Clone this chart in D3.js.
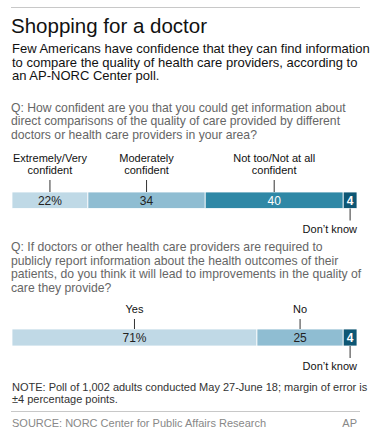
<!DOCTYPE html>
<html>
<head>
<meta charset="utf-8">
<script src="https://cdn.jsdelivr.net/npm/d3@7"></script>
<style>
  body { margin: 0; background: #fff; }
  svg { display: block; font-family: "Liberation Sans", Arial, sans-serif; }
</style>
</head>
<body>
<div id="chart-area"></div>
<script>
// data
var q1Categories = ["Extremely/Very confident", "Moderately confident", "Not too/Not at all confident", "Don\u2019t know"];
var q1Values = [22, 34, 40, 4];
var q2Categories = ["Yes", "No", "Don\u2019t know"];
var q2Values = [71, 25, 4];

var titleText = "Shopping for a doctor";
var subtitleLines = [
  "Few Americans have confidence that they can find information",
  "to compare the quality of health care providers, according to",
  "an AP-NORC Center poll."
];
var q1Lines = [
  "Q: How confident are you that you could get information about",
  "direct comparisons of the quality of care provided by different",
  "doctors or health care providers in your area?"
];
var q2Lines = [
  "Q: If doctors or other health care providers are required to",
  "publicly report information about the health outcomes of their",
  "patients, do you think it will lead to improvements in the quality of",
  "care they provide?"
];
var noteLines = [
  "NOTE: Poll of 1,002 adults conducted May 27-June 18; margin of error is",
  "\u00b14 percentage points."
];
var sourceText = "SOURCE: NORC Center for Public Affairs Research";

var q1Colors = ["#bfd9e6", "#8fbdd2", "#2f88a6", "#0d5674"];
var q2Colors = ["#c0d9e6", "#8fbdd2", "#0d5674"];
var q1TextColors = ["#222", "#222", "#fff", "#fff"];
var q2TextColors = ["#222", "#222", "#fff"];

var width = 381, height = 440;

var svg = d3.select("#chart-area")
    .append("svg")
    .attr("width", width)
    .attr("height", height);

// scale shared by both bars
var x = d3.scaleLinear()
    .domain([0, 100])
    .range([12, 357]);

// top rule
svg.append("line")
    .attr("x1", 11).attr("x2", 360)
    .attr("y1", 7.5).attr("y2", 7.5)
    .attr("stroke", "#c8c8c8").attr("stroke-width", 1);

svg.append("text")
    .attr("x", 11)
    .attr("y", 33)
    .attr("font-size", "20.5px")
    .attr("fill", "#111")
    .text(titleText);

function textBlock(lines, x0, y0, lh, size, color){
    var t = svg.append("text")
        .attr("font-size", size)
        .attr("fill", color);
    lines.forEach(function(l, i){
        t.append("tspan")
            .attr("x", x0)
            .attr("y", y0 + i * lh)
            .text(l);
    });
    return t;
}

textBlock(subtitleLines, 12, 53, 13.5, "13px", "#111");
textBlock(q1Lines, 11, 112, 13.3, "12.2px", "#666");
textBlock(q2Lines, 11, 251, 13.7, "12.2px", "#666");

function stackBar(values, cats, colors, textColors, y0, h, labelBottom, labelLines){
    var stack = [];
    var acc = 0;
    values.forEach(function(v, i){
        stack.push({cat: cats[i], value: v, x0: acc, x1: acc + v, i: i});
        acc += v;
    });
    var g = svg.append("g");

    g.selectAll("rect")
        .data(stack)
        .enter()
        .append("rect")
        .attr("x", function(d){ return x(d.x0); })
        .attr("y", y0)
        .attr("width", function(d){ return x(d.x1) - x(d.x0); })
        .attr("height", h)
        .attr("fill", function(d){ return colors[d.i]; })
        .attr("stroke", "#fff")
        .attr("stroke-width", 0.8);

    g.selectAll(".val")
        .data(stack)
        .enter()
        .append("text")
        .attr("class", "val")
        .attr("x", function(d){ return (x(d.x0) + x(d.x1)) / 2; })
        .attr("y", y0 + h / 2 + 4.5)
        .attr("text-anchor", "middle")
        .attr("font-size", "12px")
        .attr("font-weight", function(d){ return d.i === stack.length - 1 ? "bold" : "normal"; })
        .attr("fill", function(d){ return textColors[d.i]; })
        .text(function(d){ return d.i === 0 ? d.value + "%" : d.value; });

    // labels above (all but last)
    var top = stack.slice(0, stack.length - 1);
    top.forEach(function(d){
        var cx = (x(d.x0) + x(d.x1)) / 2;
        var lines = labelLines[d.i];
        var t = g.append("text")
            .attr("text-anchor", "middle")
            .attr("font-size", "11px")
            .attr("fill", "#111");
        lines.forEach(function(l, k){
            t.append("tspan")
                .attr("x", cx)
                .attr("y", labelBottom - (lines.length - 1 - k) * 12)
                .text(l);
        });
        g.append("line")
            .attr("x1", cx).attr("x2", cx)
            .attr("y1", labelBottom + 6).attr("y2", y0)
            .attr("stroke", "#333").attr("stroke-width", 1);
    });

    // don't know label below
    var last = stack[stack.length - 1];
    var lx = (x(last.x0) + x(last.x1)) / 2;
    g.append("line")
        .attr("x1", lx).attr("x2", lx)
        .attr("y1", y0 + h).attr("y2", y0 + h + 12)
        .attr("stroke", "#333").attr("stroke-width", 1);
    g.append("text")
        .attr("x", x(100))
        .attr("y", y0 + h + 24)
        .attr("text-anchor", "end")
        .attr("font-size", "11px")
        .attr("fill", "#111")
        .text(last.cat);
}

stackBar(q1Values, q1Categories, q1Colors, q1TextColors, 192, 16.5, 174,
    [["Extremely/Very", "confident"], ["Moderately", "confident"], ["Not too/Not at all", "confident"]]);
stackBar(q2Values, q2Categories, q2Colors, q2TextColors, 329, 17, 313,
    [["Yes"], ["No"]]);

textBlock(noteLines, 12, 391, 12, "11px", "#333");

svg.append("line")
    .attr("x1", 11).attr("x2", 360)
    .attr("y1", 411.5).attr("y2", 411.5)
    .attr("stroke", "#c8c8c8").attr("stroke-width", 1);

svg.append("text")
    .attr("x", 12)
    .attr("y", 427)
    .attr("font-size", "11px")
    .attr("fill", "#888")
    .text(sourceText);

svg.append("text")
    .attr("x", 357)
    .attr("y", 427)
    .attr("text-anchor", "end")
    .attr("font-size", "11px")
    .attr("fill", "#888")
    .text("AP");
</script>
</body>
</html>
